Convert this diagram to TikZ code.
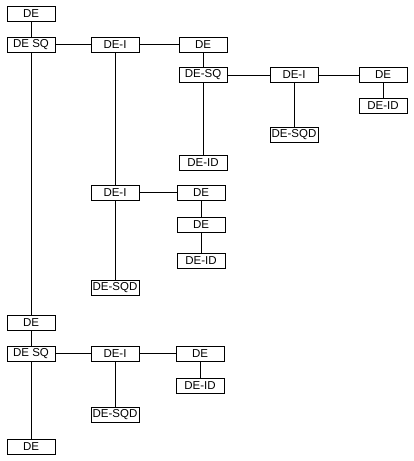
\documentclass[tikz,border=0pt]{standalone}
\usepackage{fontspec}
\setmainfont{Liberation Sans}

\begin{document}
\begin{tikzpicture}[x=1pt,y=-1pt,
    every node/.style={draw,rectangle,line width=1pt,minimum width=48pt,minimum height=15pt,inner sep=0pt,font=\fontsize{11.5}{12}\selectfont},
    line width=1pt
]
    \useasboundingbox (0,0) rectangle (414,461);

    \node (de0) at (31,14) {DE};
    \node (sq0) at (31,44.5) {DE SQ};
    \node (i0) at (115,44.5) {DE-I};
    \node (de1) at (203,44.5) {DE};
    \node (sq1) at (203,75) {DE-SQ};
    \node (i1) at (294,75) {DE-I};
    \node (de2) at (383,75) {DE};
    \node (id2) at (383,105.5) {DE-ID};
    \node (sqd1) at (294,134.5) {DE-SQD};
    \node (id1) at (203,162.5) {DE-ID};

    \node (i2) at (115,192.5) {DE-I};
    \node (de3) at (201,192.5) {DE};
    \node (de4) at (201,224.5) {DE};
    \node (id3) at (201,260.5) {DE-ID};
    \node (sqd2) at (115,287.5) {DE-SQD};

    \node (de5) at (31,322.5) {DE};
    \node (sq5) at (31,353.5) {DE SQ};
    \node (i5) at (115,353.5) {DE-I};
    \node (de6) at (200,353.5) {DE};
    \node (id6) at (200,385.5) {DE-ID};
    \node (sqd5) at (115,414.5) {DE-SQD};
    \node (de7) at (31,446.5) {DE};

    \foreach \i/\j in {de0/sq0,sq0/i0,i0/de1,de1/sq1,sq1/i1,i1/de2,de2/id2,i1/sqd1,sq1/id1,
                       i0/i2,i2/de3,de3/de4,de4/id3,i2/sqd2,
                       sq0/de5,de5/sq5,sq5/i5,i5/de6,de6/id6,i5/sqd5,sq5/de7}
        \draw (\i) -- (\j);
\end{tikzpicture}
\end{document}
